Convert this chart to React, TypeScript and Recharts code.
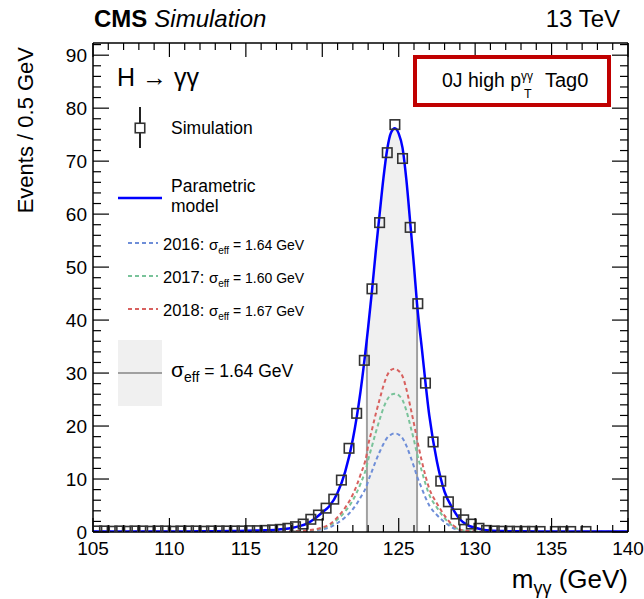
import React from 'react';
import { ComposedChart, Line, Area, Scatter, XAxis, YAxis, ReferenceLine } from 'recharts';

const FONT = '"Liberation Sans", Arial, Helvetica, sans-serif';

// mass grid (GeV) on which the fitted shapes are sampled
const massGrid = [
  105, 106, 107, 108, 109, 110, 111, 112, 113, 114, 115, 116, 117,
  117.5, 118, 118.5, 119, 119.5, 120, 120.5, 121, 121.5, 122, 122.5,
  122.92,
  123, 123.25, 123.5, 123.75, 124, 124.25, 124.5, 124.75, 125, 125.25, 125.5, 125.75, 126,
  126.2,
  126.5, 127, 127.5, 128, 128.5, 129, 129.5, 130, 130.5, 131,
  132, 133, 134, 135, 136, 137, 138, 139, 140,
];

// parametric model, all years combined
const modelCurve = [
  0.1, 0.1, 0.1, 0.1, 0.1, 0.1, 0.11, 0.12, 0.14, 0.17, 0.22, 0.3, 0.42,
  0.55, 0.75, 1.1, 1.6, 2.5, 3.7, 5.0, 7.4, 11.4, 17.5, 26.5,
  36.5,
  38.6, 45.5, 53, 60, 66.8, 72.3, 75.4, 76.2, 75.2, 72.5, 66.5, 58.5, 50.2,
  43,
  35, 22, 13.3, 7.6, 4.6, 2.4, 1.3, 0.8, 0.45, 0.28,
  0.16, 0.12, 0.1, 0.1, 0.1, 0.1, 0.1, 0.1, 0.1,
];

const curve2016 = [
  0.02, 0.02, 0.02, 0.02, 0.02, 0.02, 0.02, 0.02, 0.02, 0.02, 0.02, 0.02, 0.03,
  0.04, 0.06, 0.1, 0.18, 0.3, 0.52, 0.9, 1.7, 2.8, 4.3, 6.5,
  8.9,
  9.6, 11.5, 13.4, 15.1, 16.6, 17.8, 18.4, 18.6, 18.4, 17.7, 16.3, 14.4, 12.3,
  10.5,
  8.3, 5.0, 3.2, 1.85, 0.85, 0.3, 0.13, 0.06, 0.04, 0.03,
  0.02, 0.02, 0.02, 0.02, 0.02, 0.02, 0.02, 0.02, 0.02,
];

const curve2017 = [
  0.03, 0.03, 0.03, 0.03, 0.03, 0.03, 0.03, 0.03, 0.03, 0.03, 0.03, 0.03, 0.04,
  0.05, 0.08, 0.15, 0.25, 0.42, 0.72, 1.25, 2.4, 3.9, 6.0, 9.1,
  12.6,
  13.6, 16.2, 18.8, 21.2, 23.4, 25.0, 25.9, 26.1, 25.8, 24.9, 22.9, 20.2, 17.3,
  14.8,
  11.6, 7.0, 4.6, 2.6, 1.2, 0.42, 0.18, 0.08, 0.05, 0.04,
  0.03, 0.03, 0.03, 0.03, 0.03, 0.03, 0.03, 0.03, 0.03,
];

const curve2018 = [
  0.04, 0.04, 0.04, 0.04, 0.04, 0.04, 0.04, 0.04, 0.04, 0.04, 0.05, 0.05, 0.05,
  0.06, 0.1, 0.18, 0.3, 0.5, 0.85, 1.5, 2.8, 4.6, 7.1, 10.8,
  14.9,
  16.3, 19.3, 22.3, 25.0, 27.6, 29.6, 30.6, 30.8, 30.4, 29.4, 27.0, 23.8, 20.4,
  17.5,
  13.5, 8.2, 5.4, 3.1, 1.4, 0.5, 0.22, 0.1, 0.06, 0.05,
  0.04, 0.04, 0.04, 0.04, 0.04, 0.04, 0.04, 0.04, 0.04,
];

// simulated events in 0.5 GeV bins (empty bins left out)
const simMass = [
  105.25, 105.75, 106.25, 106.75, 107.25, 107.75, 108.25, 108.75, 109.25, 109.75,
  110.25, 110.75, 111.25, 111.75, 112.25, 112.75, 113.25, 113.75, 114.25, 114.75,
  115.25, 115.75, 116.25, 116.75, 117.25, 117.75, 118.25, 118.75, 119.25, 119.75,
  120.25, 120.75, 121.25, 121.75, 122.25, 122.75, 123.25, 123.75, 124.25, 124.75,
  125.25, 125.75, 126.25, 126.75, 127.25, 127.75, 128.25, 128.75, 129.25, 129.75,
  130.25, 130.75, 131.25, 131.75, 132.25, 132.75, 133.25, 133.75, 134.25,
  135.25, 135.75, 136.25, 137.25,
];
const simEvents = [
  0.2, 0.2, 0.15, 0.2, 0.15, 0.2, 0.2, 0.15, 0.2, 0.2,
  0.15, 0.2, 0.2, 0.2, 0.15, 0.2, 0.2, 0.2, 0.2, 0.2,
  0.25, 0.25, 0.3, 0.4, 0.5, 0.7, 1.0, 1.5, 2.4, 3.2,
  4.5, 6.2, 9.8, 15.8, 22.4, 32.4, 45.9, 58.4, 71.6, 76.9,
  70.5, 57.5, 43.1, 28.1, 17.0, 9.6, 5.7, 3.4, 2.3, 1.5,
  0.7, 0.3, 0.2, 0.15, 0.15, 0.12, 0.12, 0.12, 0.1,
  0.1, 0.1, 0.1, 0.1,
];

// effective-width window, +/- sigma_eff around the peak
const effWindow = [122.92, 126.2];

const xMajor = [105, 110, 115, 120, 125, 130, 135, 140];
const yMajor = [0, 10, 20, 30, 40, 50, 60, 70, 80, 90];
const xTicks = Array.from({ length: 36 }, (_, i) => 105 + i);
const yTicks = Array.from({ length: 47 }, (_, i) => 2 * i);

const COLORS = {
  model: '#0000ff',
  y2016: '#6e8ed8',
  y2017: '#79c39a',
  y2018: '#d8615f',
  band: '#f0f0f0',
  bandEdge: '#a0a0a0',
};

const curveRows = massGrid.map((m, i) => ({
  x: m,
  model: modelCurve[i],
  y2016: curve2016[i],
  y2017: curve2017[i],
  y2018: curve2018[i],
  band: m >= effWindow[0] && m <= effWindow[1] ? modelCurve[i] : null,
}));

const simRows = simMass.map((m, i) => ({ x: m, y: simEvents[i] }));

const modelAt = (m: number) => modelCurve[massGrid.indexOf(m)];

const BottomTick = ({ x, y, payload }: any) => {
  const major = xMajor.includes(payload.value);
  return (
    <g>
      <line x1={x} y1={y} x2={x} y2={y - (major ? 14 : 7)} stroke="#000" strokeWidth={1.2} />
      {major && (
        <text x={x} y={y + 23} textAnchor="middle" fontSize={19} fontFamily={FONT} fill="#000">
          {payload.value}
        </text>
      )}
    </g>
  );
};

const TopTick = ({ x, y, payload }: any) => {
  const major = xMajor.includes(payload.value);
  return <line x1={x} y1={y} x2={x} y2={y + (major ? 14 : 7)} stroke="#000" strokeWidth={1.2} />;
};

const LeftTick = ({ x, y, payload }: any) => {
  const major = yMajor.includes(payload.value);
  return (
    <g>
      <line x1={x} y1={y} x2={x + (major ? 16 : 8)} y2={y} stroke="#000" strokeWidth={1.2} />
      {major && (
        <text x={x - 6} y={y + 7} textAnchor="end" fontSize={19} fontFamily={FONT} fill="#000">
          {payload.value}
        </text>
      )}
    </g>
  );
};

const RightTick = ({ x, y, payload }: any) => {
  const major = yMajor.includes(payload.value);
  return <line x1={x} y1={y} x2={x - (major ? 16 : 8)} y2={y} stroke="#000" strokeWidth={1.2} />;
};

const OpenSquare = ({ cx, cy }: any) => (
  <rect x={cx - 4.75} y={cy - 4.75} width={9.5} height={9.5} fill="none" stroke="#333" strokeWidth={1.6} />
);

const frameLine = { stroke: '#000', strokeWidth: 1.5 };

const Overlay = () => (
  <svg
    width={644}
    height={599}
    style={{ position: 'absolute', left: 0, top: 0, pointerEvents: 'none' }}
    fontFamily={FONT}
  >
    {/* header */}
    <text x={94} y={27} fontSize={24} fill="#000">
      <tspan fontWeight="bold">CMS</tspan>
      <tspan fontStyle="italic" dx={7}>Simulation</tspan>
    </text>
    <text x={620} y={27} fontSize={24} textAnchor="end" fill="#000">13 TeV</text>

    {/* axis titles */}
    <text transform="translate(33,47) rotate(-90)" textAnchor="end" fontSize={22} fill="#000">
      Events / 0.5 GeV
    </text>
    <text x={628} y={588} textAnchor="end" fontSize={26} fill="#000">
      m<tspan fontSize={18} dy={6}>γγ</tspan>
      <tspan dy={-6}> (GeV)</tspan>
    </text>

    {/* category box */}
    <rect x={415} y={57} width={194} height={48} fill="#fff" stroke="#c00000" strokeWidth={4} />
    <text x={442} y={87} fontSize={19.5} fill="#000">0J high p</text>
    <text x={521} y={80} fontSize={12} fill="#000">γγ</text>
    <text x={524} y={98} fontSize={12.5} fill="#000">T</text>
    <text x={545} y={87} fontSize={20} fill="#000">Tag0</text>

    {/* legend */}
    <text x={117} y={86} fontSize={25} fill="#000">H → γγ</text>

    <line x1={140} y1={107} x2={140} y2={148} stroke="#222" strokeWidth={2} />
    <rect x={135.25} y={123.25} width={9.5} height={9.5} fill="#fff" stroke="#333" strokeWidth={1.6} />
    <text x={171} y={134} fontSize={17.5} fill="#000">Simulation</text>

    <line x1={118} y1={198} x2={162} y2={198} stroke={COLORS.model} strokeWidth={2.5} />
    <text x={171} y={192} fontSize={17.5} fill="#000">Parametric</text>
    <text x={171} y={212} fontSize={17.5} fill="#000">model</text>

    {[
      { y: 243, label: '2016: ', c: COLORS.y2016, s: '1.64' },
      { y: 276, label: '2017: ', c: COLORS.y2017, s: '1.60' },
      { y: 309, label: '2018: ', c: COLORS.y2018, s: '1.67' },
    ].map((e) => (
      <g key={e.label}>
        <line x1={128} y1={e.y} x2={158} y2={e.y} stroke={e.c} strokeWidth={2} strokeDasharray="4 3" />
        <text x={163} y={e.y + 7} fontSize={16.5} fill="#000">
          {e.label}
          <tspan fontSize={15}>σ</tspan>
          <tspan fontSize={10} dy={4}>eff</tspan>
          <tspan fontSize={14} dy={-4}>{` = ${e.s} GeV`}</tspan>
        </text>
      </g>
    ))}

    <rect x={118} y={340} width={44} height={66} fill={COLORS.band} />
    <line x1={118} y1={373} x2={162} y2={373} stroke={COLORS.bandEdge} strokeWidth={2} />
    <text x={171} y={377} fontSize={21} fill="#000">
      σ<tspan fontSize={14} dy={5}>eff</tspan>
      <tspan fontSize={17.5} dy={-5}> = 1.64 GeV</tspan>
    </text>
  </svg>
);

export default function App() {
  return (
    <div style={{ position: 'absolute', left: 0, top: 0, width: 644, height: 599, background: '#fff' }}>
      <ComposedChart
        width={644}
        height={599}
        data={curveRows}
        margin={{ top: 33, right: 6, bottom: 37, left: 33 }}
      >
        <XAxis
          xAxisId="x"
          dataKey="x"
          type="number"
          domain={[105, 140]}
          allowDataOverflow
          ticks={xTicks}
          interval={0}
          tickSize={0}
          tickMargin={0}
          tickLine={false}
          tick={<BottomTick />}
          axisLine={frameLine}
          height={30}
        />
        <XAxis
          xAxisId="top"
          orientation="top"
          dataKey="x"
          type="number"
          domain={[105, 140]}
          allowDataOverflow
          ticks={xTicks}
          interval={0}
          tickSize={0}
          tickMargin={0}
          tickLine={false}
          tick={<TopTick />}
          axisLine={frameLine}
          height={10}
        />
        <YAxis
          yAxisId="y"
          type="number"
          domain={[0, 92.3]}
          allowDataOverflow
          ticks={yTicks}
          interval={0}
          tickSize={0}
          tickMargin={0}
          tickLine={false}
          tick={<LeftTick />}
          axisLine={frameLine}
          width={60}
        />
        <YAxis
          yAxisId="right"
          orientation="right"
          type="number"
          domain={[0, 92.3]}
          allowDataOverflow
          ticks={yTicks}
          interval={0}
          tickSize={0}
          tickMargin={0}
          tickLine={false}
          tick={<RightTick />}
          axisLine={frameLine}
          width={10}
        />

        <Area
          xAxisId="x"
          yAxisId="y"
          type="monotone"
          dataKey="band"
          stroke="none"
          fill={COLORS.band}
          fillOpacity={1}
          isAnimationActive={false}
        />
        {effWindow.map((m) => (
          <ReferenceLine
            key={m}
            xAxisId="x"
            yAxisId="y"
            segment={[{ x: m, y: 0 }, { x: m, y: modelAt(m) }]}
            stroke={COLORS.bandEdge}
            strokeWidth={2}
          />
        ))}

        <Line xAxisId="x" yAxisId="y" type="monotone" dataKey="y2016" stroke={COLORS.y2016} strokeWidth={2} strokeDasharray="4 3" dot={false} isAnimationActive={false} />
        <Line xAxisId="x" yAxisId="y" type="monotone" dataKey="y2017" stroke={COLORS.y2017} strokeWidth={2} strokeDasharray="4 3" dot={false} isAnimationActive={false} />
        <Line xAxisId="x" yAxisId="y" type="monotone" dataKey="y2018" stroke={COLORS.y2018} strokeWidth={2} strokeDasharray="4 3" dot={false} isAnimationActive={false} />
        <Line xAxisId="x" yAxisId="y" type="monotone" dataKey="model" stroke={COLORS.model} strokeWidth={2.5} dot={false} isAnimationActive={false} />
        {/* keeps the top/right frame axes bound to the same data */}
        <Line xAxisId="top" yAxisId="right" type="monotone" dataKey="model" stroke="none" dot={false} isAnimationActive={false} />

        <Scatter
          xAxisId="x"
          yAxisId="y"
          data={simRows}
          dataKey="y"
          shape={<OpenSquare />}
          isAnimationActive={false}
        />
      </ComposedChart>
      <Overlay />
    </div>
  );
}
